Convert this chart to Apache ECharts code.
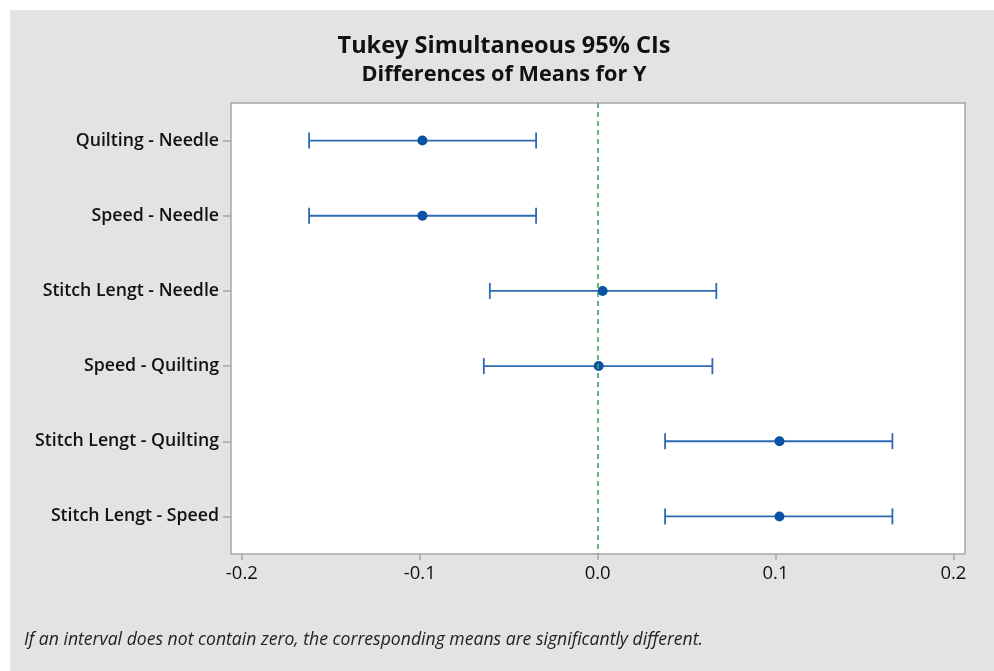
<!DOCTYPE html>
<html>
<head>
<meta charset="utf-8">
<script src="https://cdn.jsdelivr.net/npm/echarts@6/dist/echarts.min.js"></script>
<style>
html,body{margin:0;padding:0;background:#fff;}
#c{width:994px;height:671px;}
</style>
</head>
<body>
<div id="c"></div>
<script>
const categories = ['Quilting - Needle','Speed - Needle','Stitch Lengt - Needle','Speed - Quilting','Stitch Lengt - Quilting','Stitch Lengt - Speed'];
const centers = [-0.0985, -0.0985, 0.0028, 0.0006, 0.1022, 0.1022];
const lower = [-0.1622, -0.1622, -0.0606, -0.0640, 0.0379, 0.0379];
const upper = [-0.0346, -0.0346, 0.0667, 0.0645, 0.1657, 0.1657];
const xTicks = [-0.2, -0.1, 0.0, 0.1, 0.2];

const FONT = '"Open Sans", "Noto Sans", sans-serif';
const chart = echarts.init(document.getElementById('c'), null, {renderer:'canvas'});

const ciData = categories.map((c, i) => [i, lower[i], upper[i]]);
const ptData = categories.map((c, i) => [centers[i], i]);

chart.setOption({
  animation: false,
  backgroundColor: '#ffffff',
  graphic: [{
    type: 'rect', z: -10, silent: true,
    shape: {x: 10, y: 10, width: 994, height: 671},
    style: {fill: '#e3e3e3'}
  }],
  title: [{
    text: 'Tukey Simultaneous 95% CIs',
    left: 499, top: 29, textAlign: 'center',
    textStyle: {fontFamily: FONT, fontWeight: 'bold', fontSize: 23.5, color: '#111'}
  }, {
    text: 'Differences of Means for Y',
    left: 499, top: 59, textAlign: 'center',
    textStyle: {fontFamily: FONT, fontWeight: 'bold', fontSize: 21.7, color: '#111'}
  }, {
    text: 'If an interval does not contain zero, the corresponding means are significantly different.',
    left: 19, top: 626,
    textStyle: {fontFamily: FONT, fontStyle: 'italic', fontWeight: 'normal', fontSize: 17.6, color: '#222'}
  }],
  grid: {
    left: 231, top: 103, width: 734, height: 451,
    show: true, backgroundColor: '#ffffff', borderColor: '#a6a6a6', borderWidth: 1.5
  },
  xAxis: {
    type: 'value', min: -0.2061, max: 0.2065,
    splitLine: {show: false},
    axisLine: {show: false, onZero: false},
    axisTick: {show: true, length: 6, customValues: xTicks, lineStyle: {color: '#a6a6a6', width: 1.5}},
    axisLabel: {customValues: xTicks, formatter: v => v.toFixed(1), margin: 10,
      fontFamily: FONT, fontSize: 18.5, fontWeight: 'normal', color: '#111'}
  },
  yAxis: {
    type: 'category', data: categories, inverse: true, boundaryGap: true,
    axisLine: {show: false, onZero: false},
    axisTick: {show: true, length: 8, alignWithLabel: true, lineStyle: {color: '#a6a6a6', width: 1.5}},
    axisLabel: {margin: 12, fontFamily: FONT, fontSize: 17.7, fontWeight: 600, color: '#111'},
    splitLine: {show: false}
  },
  series: [{
    type: 'custom',
    data: ciData,
    z: 3,
    renderItem: function (params, api) {
      const cat = api.value(0);
      const p1 = api.coord([api.value(1), cat]);
      const p2 = api.coord([api.value(2), cat]);
      const h = 8;
      const st = {stroke: '#2c6ab3', lineWidth: 1.8};
      return {type: 'group', children: [
        {type: 'line', shape: {x1: p1[0], y1: p1[1], x2: p2[0], y2: p2[1]}, style: st},
        {type: 'line', shape: {x1: p1[0], y1: p1[1]-h, x2: p1[0], y2: p1[1]+h}, style: st},
        {type: 'line', shape: {x1: p2[0], y1: p2[1]-h, x2: p2[0], y2: p2[1]+h}, style: st}
      ]};
    },
    encode: {x: [1, 2], y: 0}
  }, {
    type: 'scatter',
    data: ptData,
    symbol: 'circle', symbolSize: 10, z: 4,
    itemStyle: {color: '#0a52a5', opacity: 1},
    markLine: {
      silent: true, symbol: 'none', label: {show: false},
      lineStyle: {color: '#3fa65b', type: [5, 4], width: 1.6},
      data: [{xAxis: 0}]
    }
  }]
});
</script>
</body>
</html>
